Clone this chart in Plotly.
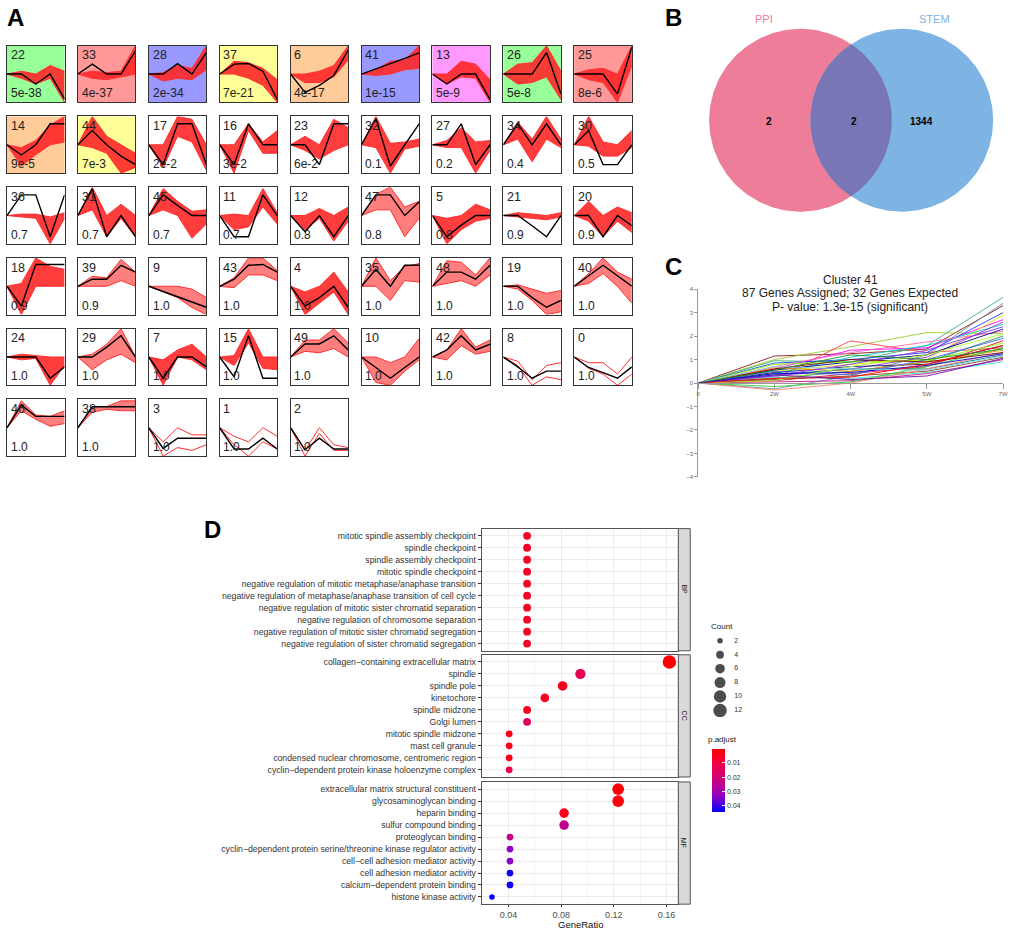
import numpy as np
import plotly.graph_objects as go

W, H = 1020, 932
FONT = "Liberation Sans, Arial, sans-serif"

def px(x):
    return x / W

def py(y):
    return 1 - y / H

# ---------------- Panel A data ----------------
time_idx = [0, 1, 2, 3, 4]
cluster_ids = [22, 33, 28, 37, 6, 41, 13, 26, 25,
               14, 44, 17, 16, 23, 32, 27, 34, 30,
               36, 31, 45, 11, 12, 47, 5, 21, 20,
               18, 39, 9, 43, 4, 35, 48, 19, 40,
               24, 29, 7, 15, 49, 10, 42, 8, 0,
               46, 38, 3, 1, 2]
cluster_pvals = ["5e-38", "4e-37", "2e-34", "7e-21", "4e-17", "1e-15", "5e-9", "5e-8", "8e-6",
                 "9e-5", "7e-3", "2e-2", "3e-2", "6e-2", "0.1", "0.2", "0.4", "0.5",
                 "0.7", "0.7", "0.7", "0.7", "0.8", "0.8", "0.8", "0.9", "0.9",
                 "0.9", "0.9", "1.0", "1.0", "1.0", "1.0", "1.0", "1.0", "1.0",
                 "1.0", "1.0", "1.0", "1.0", "1.0", "1.0", "1.0", "1.0", "1.0",
                 "1.0", "1.0", "1.0", "1.0", "1.0"]
cluster_bg = {22: "#99FF99", 33: "#FF9999", 28: "#9999FF", 37: "#FFFF99", 6: "#FFCC99",
              41: "#9999FF", 13: "#FF99FF", 26: "#99FF99", 25: "#FF9999",
              14: "#FFCC99", 44: "#FFFF99"}
model_profiles = {
    22: [0, 0, -0.35, 0, -0.88], 33: [0, 0.35, 0, 0, 0.82], 28: [0, 0, 0.37, 0, 0.76],
    37: [0, 0.35, 0.37, 0.1, -0.9], 6: [0, -0.65, -0.4, -0.05, 0.85], 41: [0, 0.18, 0.36, 0.55, 0.75],
    13: [0, -0.35, 0, 0, -0.9], 26: [0, 0, 0, 0.76, -0.7], 25: [0, 0, 0, -0.7, 0.95],
    14: [0, -0.36, 0, 0.74, 0.74], 44: [0, 0.5, 0, -0.4, -0.7], 17: [0, -0.7, 0.74, 0.74, -0.7],
    16: [0, -0.7, 0.74, 0, 0], 23: [0, 0, -0.7, 0.74, 0.74], 32: [0, 0.92, -0.75, 0, 0.74],
    27: [0, 0, 0.74, -0.7, 0], 34: [0, 0.74, 0, 0.74, 0], 30: [0, 0.5, -0.7, -0.7, 0],
    36: [0, 0.73, 0.73, -0.75, 0.73], 31: [0, 0.94, -0.75, 0, -0.75], 45: [0, 0.73, 0.36, 0, 0],
    11: [0, -0.75, -0.75, 0.73, 0], 12: [0, -0.57, 0, -0.75, 0], 47: [0, 0.73, 0.73, 0, 0.48],
    5: [0, -0.75, -0.34, 0, 0], 21: [0, 0, -0.36, -0.75, 0], 20: [0, 0, -0.75, 0, -0.36],
    18: [0, -0.7, 0.77, 0.77, 0.77], 39: [0, 0.25, 0.25, 0.74, 0.5], 9: [0, -0.18, -0.36, -0.55, -0.74],
    43: [0, 0.25, 0.74, 0.77, 0.5], 4: [0, -0.7, -0.4, 0, -0.75], 35: [0, 0.6, 0, 0.74, 0.74],
    48: [0, 0.5, 0.5, 0.25, 0.74], 19: [0, 0, -0.4, -0.74, -0.5], 40: [0, 0.37, 0.74, 0.37, 0],
    24: [0, 0, 0, -0.75, -0.35], 29: [0, 0, 0.35, 0.75, 0], 7: [0, -0.75, 0, 0, -0.35],
    15: [0, -0.7, 0.75, -0.75, -0.75], 49: [0, 0.46, 0.46, 0.75, 0.25], 10: [0, -0.37, -0.75, -0.37, 0],
    42: [0, 0.25, 0.75, 0.25, 0.45], 8: [0, -0.35, -0.75, -0.5, -0.5], 0: [0, -0.37, -0.55, -0.75, -0.35],
    46: [0, 0.8, 0.4, 0.4, 0.4], 38: [0, 0.74, 0.74, 0.74, 0.74], 3: [0, -0.73, -0.37, -0.37, -0.37],
    1: [0, -0.75, -0.75, -0.37, -0.75], 2: [0, -0.78, -0.37, -0.75, -0.75],
}
red_upper = {
    22: [0, 0.1, 0.0, 0.3, 0.1], 33: [0, 0.1, 0.05, 0.1, 1.0], 28: [0, 0.05, 0.3, 0.2, 1.0],
    37: [0, 0.45, 0.4, 0.2, -0.2], 6: [0, 0.0, 0.1, 0.3, 1.0], 41: [0, 0.15, 0.45, 0.5, 1.0],
    13: [0, 0.0, 0.45, 0.35, -0.2], 26: [0, 0.35, 0.4, 1.0, 0.1], 25: [0, 0.15, 0.2, 0.0, 1.0],
    14: [0, -0.1, 0.15, 0.7, 1.0], 44: [0, 1.0, 0.3, 0.0, -0.3], 17: [0, 0.0, 1.0, 0.9, 0.0],
    16: [0, 0.0, 0.74, 0.1, 0.5], 23: [0, 0.3, 0.0, 0.9, 0.6], 32: [0, 1.0, 0.05, 0.1, 0.2],
    27: [0, 0.15, 0.6, 0.1, 0.15], 34: [0, 0.8, 0.2, 1.0, 0.2], 30: [0, 1.0, 0.1, 0.0, 0.5],
    36: [0, 0.05, 0.05, -0.05, 0.1], 31: [0, 1.0, 0.0, 0.4, 0.0], 45: [0, 0.95, 0.5, 0.15, 0.2],
    11: [0, 0.05, 0.0, 0.95, 0.1], 12: [0, 0.0, 0.25, 0.0, 0.3], 47: [0, 0.75, 1.0, 0.3, 0.5],
    5: [0, -0.1, 0.0, 0.4, 0.2], 21: [0, 0.1, 0.05, 0.0, 0.1], 20: [0, 0.5, 0.0, 0.3, 0.1],
    18: [0, 0.1, 1.0, 0.7, 0.6], 39: [0, 0.35, 0.3, 0.95, 0.5], 9: [0, 0.0, 0.0, -0.1, -0.4],
    43: [0, 0.3, 1.0, 1.0, 0.55], 4: [0, -0.2, 0.0, 0.5, -0.2], 35: [0, 1.0, 0.2, 0.7, 0.8],
    48: [0, 0.9, 0.85, 0.4, 1.0], 19: [0, 0.05, -0.1, -0.25, -0.15], 40: [0, 0.45, 1.0, 0.5, 0.25],
    24: [0, 0.1, 0.05, 0.0, 0.0], 29: [0, 0.1, 0.45, 1.0, 0.0], 7: [0, -0.1, 0.25, 0.45, 0.0],
    15: [0, 0.05, 1.0, 0.0, 0.0], 49: [0, 0.6, 0.6, 1.0, 0.5], 10: [0, 0.0, -0.2, 0.0, 0.65],
    42: [0, 0.25, 1.0, 0.35, 0.6], 8: [0, -0.15, -0.8, -0.3, -0.2], 0: [0, -0.2, -0.2, -0.6, 0.0],
    46: [0, 0.95, 0.45, 0.4, 0.6], 38: [0, 0.75, 0.75, 0.95, 0.95], 3: [0, -0.5, 0.0, -0.25, -0.25],
    1: [0, -0.3, -0.5, 0.0, -0.3], 2: [0, -0.8, 0.0, -0.6, -0.7],
}
red_lower = {
    22: [0, -0.15, -0.35, -0.15, -1.0], 33: [0, -0.15, -0.2, -0.1, 0.0], 28: [0, -0.25, -0.15, -0.2, 0.15],
    37: [0, 0.0, -0.15, -0.4, -1.0], 6: [0, -0.3, -0.3, -0.1, 0.5], 41: [0, -0.05, 0.0, 0.15, 0.2],
    13: [0, -0.35, -0.1, -0.15, -1.0], 26: [0, -0.35, -0.3, -0.1, -0.9], 25: [0, -0.2, -0.3, -1.0, 0.3],
    14: [0, -0.75, -0.35, 0.0, 0.1], 44: [0, -0.1, -0.3, -1.0, -0.8], 17: [0, -0.8, 0.3, 0.1, -0.9],
    16: [0, -1.0, 0.5, -0.3, -0.3], 23: [0, -0.2, -0.5, -0.2, 0.0], 32: [0, -0.1, -1.0, -0.15, -0.05],
    27: [0, -0.1, -0.1, -1.0, -0.2], 34: [0, 0.2, -0.6, 0.2, -0.1], 30: [0, -0.05, -0.4, -0.4, -0.1],
    36: [0, -0.05, -0.1, -1.0, -0.1], 31: [0, 0.2, -0.75, -0.1, -0.75], 45: [0, 0.2, 0.0, -0.8, -0.3],
    11: [0, -0.5, -0.4, 0.3, -0.3], 12: [0, -0.5, -0.1, -0.9, -0.2], 47: [0, 0.2, 0.2, -0.75, -0.1],
    5: [0, -1.0, -0.5, -0.2, -0.1], 21: [0, -0.05, -0.1, -0.15, -0.05], 20: [0, -0.2, -0.75, -0.2, -0.6],
    18: [0, -1.0, 0.0, 0.0, 0.0], 39: [0, 0.0, 0.0, 0.2, 0.0], 9: [0, -0.2, -0.4, -0.75, -1.0],
    43: [0, -0.05, 0.4, 0.4, 0.2], 4: [0, -1.0, -0.6, -0.2, -1.0], 35: [0, 0.0, -0.5, 0.2, 0.15],
    48: [0, 0.1, 0.2, 0.0, 0.4], 19: [0, -0.1, -0.5, -1.0, -0.9], 40: [0, 0.1, 0.45, 0.0, -0.6],
    24: [0, -0.1, -0.05, -1.0, -0.3], 29: [0, -0.45, -0.1, 0.1, -0.2], 7: [0, -1.0, 0.0, -0.1, -0.45],
    15: [0, -0.3, 0.5, -0.4, -0.45], 49: [0, 0.2, 0.15, 0.3, 0.0], 10: [0, -0.9, -1.0, -0.5, -0.1],
    42: [0, -0.1, 0.4, 0.1, 0.2], 8: [0, -0.3, -1.0, -0.7, -0.8], 0: [0, -0.4, -0.6, -1.0, -0.6],
    46: [0, 0.6, 0.3, 0.05, 0.15], 38: [0, 0.55, 0.65, 0.6, 0.6], 3: [0, -1.0, -0.7, -0.8, -0.6],
    1: [0, -0.6, -1.0, -0.5, -0.75], 2: [0, -1.0, -0.2, -0.8, -0.8],
}
sparse_clusters = [8, 0, 3, 1, 2]
medium_clusters = [19, 38, 46, 40, 39, 43, 48, 42, 49, 9, 35, 10, 29, 47]

# ---------------- Panel B data ----------------
venn_sets = ["PPI", "STEM"]
venn_only_ppi, venn_both, venn_only_stem = 2, 2, 1344

# ---------------- Panel C data ----------------
c_time_labels = ["0", "2W", "4W", "5W", "7W"]
c_lines = [
    [0, 1.15, 1.25, 1.45, 3.3], [0, 1.0, 1.55, 2.15, 2.1], [0, 0.95, 0.9, 1.6, 3.65],
    [0, 0.2, 1.8, 1.3, 1.5], [0, -0.25, 0.3, 1.2, 3.4], [0, 0.6, 1.4, 1.5, 2.7],
    [0, 0.85, 1.0, 1.3, 3.0], [0, 0.5, 0.8, 1.0, 2.9], [0, 0.4, 1.1, 1.6, 2.5],
    [0, 0.7, 1.3, 1.75, 2.2], [0, 0.3, 0.6, 1.1, 2.6], [0, 0.55, 0.9, 1.2, 2.3],
    [0, 0.2, 0.5, 0.9, 2.0], [0, 0.1, 0.4, 0.7, 1.8], [0, 0.45, 0.7, 0.8, 1.6],
    [0, 0.65, 0.5, 0.9, 1.4], [0, 0.35, 0.6, 0.6, 1.2], [0, 0.15, 0.3, 0.5, 1.1],
    [0, 0.25, 0.2, 0.45, 0.9], [0, 0.05, 0.1, 0.4, 1.0], [0, -0.3, 0.0, 0.6, 1.3],
    [0, -0.15, 0.05, 0.7, 1.5], [0, 0.8, 0.9, 0.95, 1.7], [0, 0.5, 0.35, 1.0, 1.9],
    [0, 0.3, 0.8, 1.4, 2.4], [0, 0.6, 1.0, 0.9, 1.3], [0, 0.4, 0.45, 0.75, 1.25],
    [0, 0.1, 0.7, 1.2, 2.1], [0, 0.7, 0.6, 0.55, 1.15], [0, 0.2, 0.25, 0.8, 1.6],
    [0, 0.55, 1.2, 1.0, 1.45], [0, 0.35, 0.15, 0.3, 1.05],
]
c_colors = ['#8B1A1A', '#9ACD32', '#3CB371', '#FF4040', '#6A8CAF', '#FF00FF', '#1E3CFF', '#E6E600',
            '#00CED1', '#FF69B4', '#9932CC', '#00008B', '#2E8B57', '#DC143C', '#191970', '#FF8C00',
            '#008080', '#8B4513', '#40E0D0', '#C71585', '#FA8072', '#32CD32', '#7FFF00', '#4169E1',
            '#8A2BE2', '#800000', '#0000CD', '#ADFF2F', '#87CEEB', '#FF0000', '#228B22', '#6A0DAD']

# ---------------- Panel D data ----------------
bp_terms = ["mitotic spindle assembly checkpoint", "spindle checkpoint", "spindle assembly checkpoint",
            "mitotic spindle checkpoint", "negative regulation of mitotic metaphase/anaphase transition",
            "negative regulation of metaphase/anaphase transition of cell cycle",
            "negative regulation of mitotic sister chromatid separation",
            "negative regulation of chromosome separation",
            "negative regulation of mitotic sister chromatid segregation",
            "negative regulation of sister chromatid segregation"]
bp_ratio = [0.0541] * 10
bp_count = [4] * 10
bp_padj = [0.0055] * 10

cc_terms = ["collagen\u2212containing extracellular matrix", "spindle", "spindle pole", "kinetochore",
            "spindle midzone", "Golgi lumen", "mitotic spindle midzone", "mast cell granule",
            "condensed nuclear chromosome, centromeric region",
            "cyclin\u2212dependent protein kinase holoenzyme complex"]
cc_ratio = [0.1622, 0.0946, 0.0811, 0.0676, 0.0541, 0.0541, 0.0405, 0.0405, 0.0405, 0.0405]
cc_count = [12, 7, 6, 5, 4, 4, 3, 3, 3, 3]
cc_padj = [0.0002, 0.0134, 0.0046, 0.005, 0.004, 0.0148, 0.004, 0.004, 0.004, 0.011]

mf_terms = ["extracellular matrix structural constituent", "glycosaminoglycan binding", "heparin binding",
            "sulfur compound binding", "proteoglycan binding",
            "cyclin\u2212dependent protein serine/threonine kinase regulator activity",
            "cell\u2212cell adhesion mediator activity", "cell adhesion mediator activity",
            "calcium\u2212dependent protein binding", "histone kinase activity"]
mf_ratio = [0.1233, 0.1233, 0.0822, 0.0822, 0.0411, 0.0411, 0.0411, 0.0411, 0.0411, 0.0274]
mf_count = [9, 9, 6, 6, 3, 3, 3, 3, 3, 2]
mf_padj = [0.0011, 0.0015, 0.0046, 0.024, 0.023, 0.033, 0.034, 0.0428, 0.0428, 0.0442]

facet_names = ["BP", "CC", "MF"]
legend_counts = [2, 4, 6, 8, 10, 12]
padj_ticks = [0.01, 0.02, 0.03, 0.04]
padj_min, padj_max = 0.0002, 0.0442

# ======================================================
fig = go.Figure()
layout = dict(width=W, height=H, margin=dict(l=0, r=0, t=0, b=0, pad=0),
              paper_bgcolor="white", plot_bgcolor="rgba(0,0,0,0)",
              showlegend=False, font=dict(family=FONT, color="#222"))
shapes = []
annotations = []


def axnames(k):
    s = "" if k == 1 else str(k)
    return "xaxis" + s, "yaxis" + s, "x" + s, "y" + s


# ---------------- Panel A ----------------
for i, cid in enumerate(cluster_ids):
    r, c = divmod(i, 9)
    k = i + 1
    xa, ya, xr, yr = axnames(k)
    x0 = 5 + 71.4 * c
    y0 = 43 + 71.2 * r
    layout[xa] = dict(domain=[px(x0), px(x0 + 58)], range=[0, 4], anchor=yr,
                      showgrid=False, zeroline=False, showticklabels=False, ticks="",
                      showline=True, mirror=True, linecolor="#333", linewidth=1.4)
    layout[ya] = dict(domain=[py(y0 + 57), py(y0)], range=[-1, 1], anchor=xr,
                      showgrid=False, zeroline=False, showticklabels=False, ticks="",
                      showline=True, mirror=True, linecolor="#333", linewidth=1.4)
    if cid in cluster_bg:
        shapes.append(dict(type="rect", xref=xr + " domain", yref=yr + " domain",
                           x0=0, x1=1, y0=0, y1=1, fillcolor=cluster_bg[cid],
                           line=dict(width=0), layer="below"))
    up, lo = red_upper[cid], red_lower[cid]
    if cid not in sparse_clusters:
        alpha = 0.6 if cid in medium_clusters else 0.9
        fig.add_trace(go.Scatter(x=time_idx + time_idx[::-1], y=up + lo[::-1], xaxis=xr, yaxis=yr,
                                 mode="lines", fill="toself",
                                 fillcolor="rgba(255,40,40,%s)" % alpha,
                                 line=dict(width=0), hoverinfo="skip"))
    for arr in (up, lo):
        fig.add_trace(go.Scatter(x=time_idx, y=arr, xaxis=xr, yaxis=yr, mode="lines",
                                 line=dict(color="#FF3030", width=1), hoverinfo="skip"))
    fig.add_trace(go.Scatter(x=time_idx, y=model_profiles[cid], xaxis=xr, yaxis=yr, mode="lines",
                             line=dict(color="black", width=1.4), hoverinfo="skip"))
    annotations.append(dict(xref=xr + " domain", yref=yr + " domain", x=0.03, y=0.99,
                            xanchor="left", yanchor="top", showarrow=False, text=str(cid),
                            font=dict(size=12.5, color="#222")))
    annotations.append(dict(xref=xr + " domain", yref=yr + " domain", x=0.03, y=0.0,
                            xanchor="left", yanchor="bottom", showarrow=False,
                            text=cluster_pvals[i], font=dict(size=12, color="#222")))

# ---------------- Panel B (Venn) ----------------
kV = 56
xa, ya, xr, yr = axnames(kV)
layout[xa] = dict(domain=[px(700), px(1020)], range=[0, 320], visible=False, anchor=yr)
layout[ya] = dict(domain=[py(240), py(0)], range=[0, 240], visible=False, anchor=xr)
venn_r = 92
venn_c1, venn_c2, venn_cy = 104, 206, 122
th = np.linspace(0, 2 * np.pi, 240)
fig.add_trace(go.Scatter(x=venn_c1 + venn_r * np.cos(th), y=venn_cy + venn_r * np.sin(th),
                         xaxis=xr, yaxis=yr, mode="lines", fill="toself",
                         fillcolor="rgb(238,125,153)", line=dict(width=0), hoverinfo="skip"))
fig.add_trace(go.Scatter(x=venn_c2 + venn_r * np.cos(th), y=venn_cy + venn_r * np.sin(th),
                         xaxis=xr, yaxis=yr, mode="lines", fill="toself",
                         fillcolor="rgb(125,180,228)", line=dict(width=0), hoverinfo="skip"))
alpha_l = np.arccos((venn_c2 - venn_c1) / 2 / venn_r)
t1 = np.linspace(-alpha_l, alpha_l, 80)
t2 = np.linspace(np.pi - alpha_l, np.pi + alpha_l, 80)
lx = np.concatenate([venn_c1 + venn_r * np.cos(t1), venn_c2 + venn_r * np.cos(t2)])
ly = np.concatenate([venn_cy + venn_r * np.sin(t1), venn_cy + venn_r * np.sin(t2)])
fig.add_trace(go.Scatter(x=lx, y=ly, xaxis=xr, yaxis=yr, mode="lines", fill="toself",
                         fillcolor="rgb(121,118,181)", line=dict(width=0), hoverinfo="skip"))
annotations += [
    dict(xref="paper", yref="paper", x=px(767), y=py(16), text=venn_sets[0], showarrow=False,
         font=dict(size=11, color="rgb(238,125,153)")),
    dict(xref="paper", yref="paper", x=px(939), y=py(16), text=venn_sets[1], showarrow=False,
         font=dict(size=11, color="rgb(125,180,228)")),
    dict(xref="paper", yref="paper", x=px(772), y=py(119), text="<b>%d</b>" % venn_only_ppi,
         showarrow=False, font=dict(size=10, color="black")),
    dict(xref="paper", yref="paper", x=px(858), y=py(119), text="<b>%d</b>" % venn_both,
         showarrow=False, font=dict(size=10, color="black")),
    dict(xref="paper", yref="paper", x=px(926), y=py(119), text="<b>%d</b>" % venn_only_stem,
         showarrow=False, font=dict(size=10, color="black")),
]

# ---------------- Panel C ----------------
kC = 51
xa, ya, xr, yr = axnames(kC)
layout[xa] = dict(domain=[px(701), px(1008)], range=[0, 4], anchor="free", position=py(382),
                  showgrid=False, zeroline=False, showline=True, linecolor="#999", linewidth=1,
                  ticks="outside", ticklen=5, tickcolor="#999", tickvals=time_idx,
                  ticktext=c_time_labels, tickfont=dict(size=6, color="#666"))
layout[ya] = dict(domain=[py(477), py(288)], range=[-4, 4], anchor=xr, showgrid=False,
                  zeroline=False, showline=True, linecolor="#999", linewidth=1, ticks="outside",
                  ticklen=3, tickcolor="#999", dtick=1, tickfont=dict(size=6, color="#666"))
for vals, col in zip(c_lines, c_colors):
    fig.add_trace(go.Scatter(x=time_idx, y=vals, xaxis=xr, yaxis=yr, mode="lines",
                             line=dict(color=col, width=0.9), hoverinfo="skip", cliponaxis=False))
for txt, yy in zip(["Cluster 41", "87 Genes Assigned; 32 Genes Expected",
                    "P- value: 1.3e-15 (significant)"], [279, 292, 306]):
    annotations.append(dict(xref="paper", yref="paper", x=px(854), y=py(yy), text=txt,
                            showarrow=False, font=dict(size=12, color="#222")))

# ---------------- Panel D ----------------
colorscale = [[0, "rgb(0,0,255)"], [0.25, "rgb(145,0,194)"], [0.5, "rgb(202,0,128)"],
              [0.75, "rgb(236,0,72)"], [1, "rgb(255,0,0)"]]
facet_px = [(529, 652), (656, 779), (784, 907)]
facet_data = [(bp_terms, bp_ratio, bp_count, bp_padj),
              (cc_terms, cc_ratio, cc_count, cc_padj),
              (mf_terms, mf_ratio, mf_count, mf_padj)]
SIZEREF = 0.1315
for j, ((top, bot), (terms, ratio, count, padj)) in enumerate(zip(facet_px, facet_data)):
    k = 52 + j
    xa, ya, xr, yr = axnames(k)
    last = (j == 2)
    layout[xa] = dict(domain=[px(483), px(681)], range=[0.0196, 0.169], anchor=yr,
                      tick0=0, dtick=0.04, showgrid=True, gridcolor="#EBEBEB", gridwidth=1,
                      minor=dict(dtick=0.02, tick0=0, showgrid=True, gridcolor="#F4F4F4", gridwidth=0.6),
                      zeroline=False, showline=True, mirror=True, linecolor="#555", linewidth=1,
                      showticklabels=last, ticks="outside" if last else "", ticklen=2,
                      tickcolor="#333", tickfont=dict(size=9, color="#4d4d4d"))
    layout[ya] = dict(domain=[py(bot), py(top)], type="category", categoryorder="array",
                      categoryarray=terms, range=[9.6, -0.6], anchor=xr, showgrid=True,
                      gridcolor="#EBEBEB", gridwidth=1, zeroline=False, showline=True, mirror=True,
                      linecolor="#555", linewidth=1, ticks="outside", ticklen=3, tickcolor="#333",
                      tickfont=dict(size=8.7, color="#333"))
    marker = dict(size=count, sizemode="area", sizeref=SIZEREF, color=[-p for p in padj],
                  colorscale=colorscale, cmin=-padj_max, cmax=-padj_min, line=dict(width=0),
                  opacity=1)
    if j == 0:
        marker.update(showscale=True, colorbar=dict(
            x=px(715), xanchor="left", y=py(782.5), yanchor="middle", lenmode="pixels", len=63,
            thickness=13, thicknessmode="pixels", xpad=0, ypad=0, outlinewidth=0,
            tickvals=[-t for t in padj_ticks],
            ticktext=["%.2f" % t for t in padj_ticks], ticks="inside", ticklen=3,
            tickcolor="white", tickfont=dict(size=7, color="#333")))
    fig.add_trace(go.Scatter(x=ratio, y=terms, xaxis=xr, yaxis=yr, mode="markers",
                             marker=marker, hoverinfo="x+y"))
    shapes.append(dict(type="rect", xref="paper", yref="paper", x0=px(681), x1=px(693),
                       y0=py(bot), y1=py(top), fillcolor="#D9D9D9",
                       line=dict(color="#555", width=1)))
    annotations.append(dict(xref="paper", yref="paper", x=px(687), y=py((top + bot) / 2),
                            text=facet_names[j], textangle=90, showarrow=False,
                            font=dict(size=7, color="#1a1a1a")))

annotations.append(dict(xref="paper", yref="paper", x=px(582), y=py(927), text="GeneRatio",
                        showarrow=False, font=dict(size=9.5, color="#111")))

# Count size legend
kL = 55
xa, ya, xr, yr = axnames(kL)
layout[xa] = dict(domain=[px(714), px(750)], range=[-1, 3], visible=False, anchor=yr)
layout[ya] = dict(domain=[py(719), py(635)], range=[5.5, -0.5], visible=False, anchor=xr)
leg_y = list(range(len(legend_counts)))
fig.add_trace(go.Scatter(x=[0] * len(legend_counts), y=leg_y, xaxis=xr, yaxis=yr, mode="markers",
                         marker=dict(size=legend_counts, sizemode="area", sizeref=SIZEREF,
                                     color="black", line=dict(width=0)), hoverinfo="skip"))
fig.add_trace(go.Scatter(x=[1.6] * len(legend_counts), y=leg_y, xaxis=xr, yaxis=yr, mode="text",
                         text=[str(c) for c in legend_counts], textposition="middle right",
                         textfont=dict(size=7, color="#333"), hoverinfo="skip"))
annotations.append(dict(xref="paper", yref="paper", x=px(712), y=py(628), text="Count",
                        xanchor="left", showarrow=False, font=dict(size=8, color="#222")))
annotations.append(dict(xref="paper", yref="paper", x=px(709), y=py(741), text="p.adjust",
                        xanchor="left", showarrow=False, font=dict(size=8, color="#222")))

# Panel letters
for letter, (lx_, ly_) in zip("ABCD", [(14, 15), (676, 15), (676, 265), (212, 530)]):
    annotations.append(dict(xref="paper", yref="paper", x=px(lx_), y=py(ly_),
                            text="<b>%s</b>" % letter, showarrow=False,
                            font=dict(size=24, color="black", family="Liberation Sans, Arial")))

for a in annotations:
    a.setdefault("xanchor", "center")
    a.setdefault("yanchor", "middle")

layout["shapes"] = shapes
layout["annotations"] = annotations
fig.update_layout(**layout)
fig.write_html("out.html", config={"displayModeBar": False},
               post_script="document.body.style.margin='0px';document.body.style.padding='0px';"
                           "document.body.style.overflow='hidden';")
